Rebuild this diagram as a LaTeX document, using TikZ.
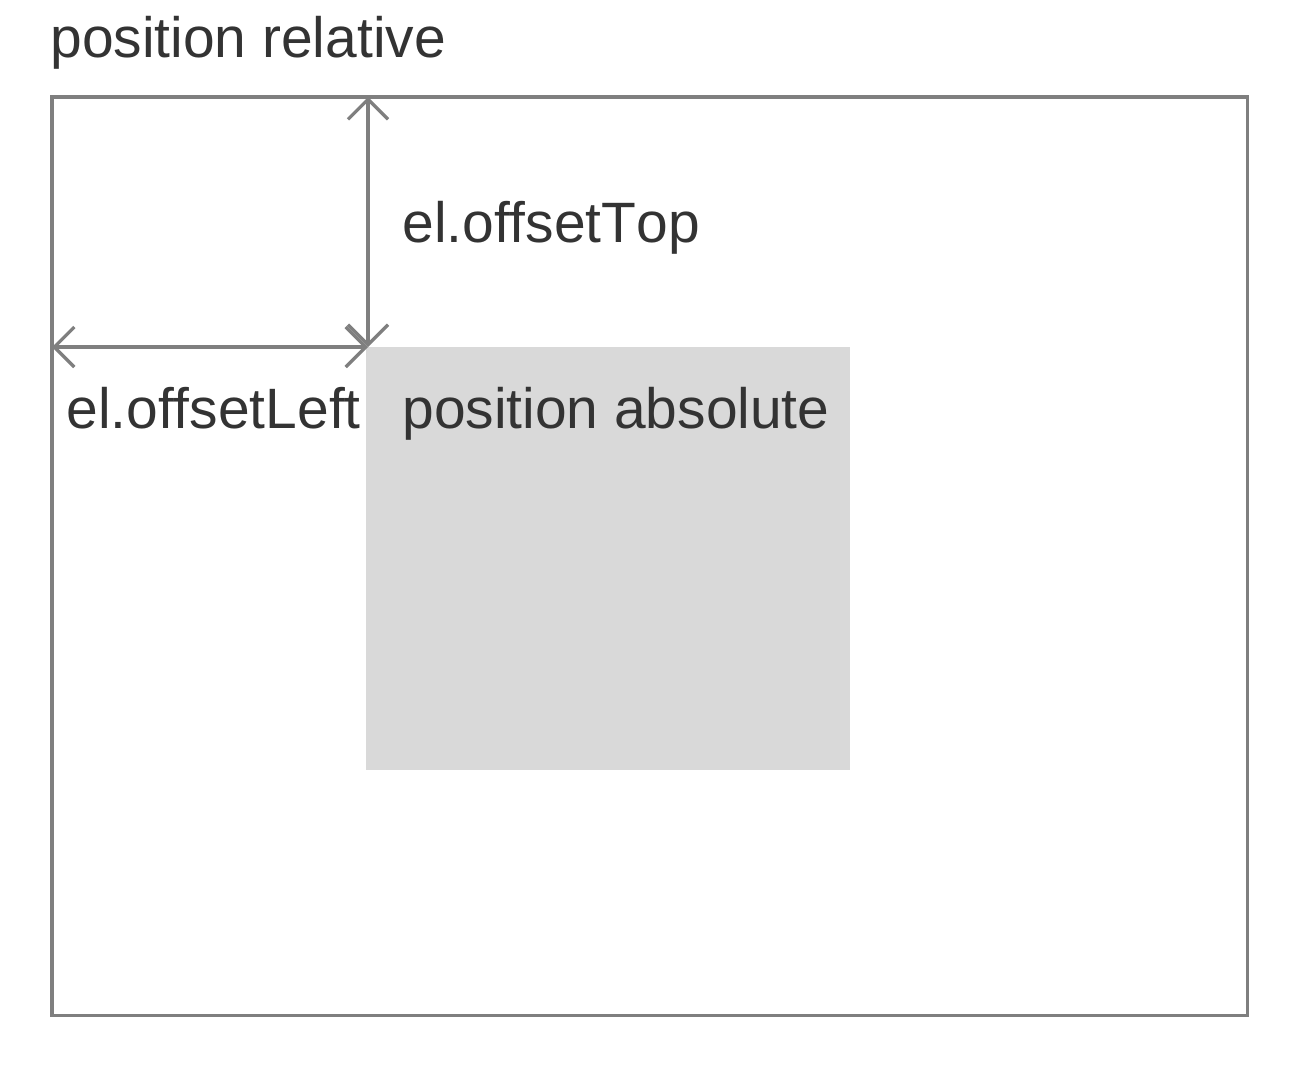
\documentclass[tikz,border=0pt]{standalone}
\usepackage{fontspec}
\setmainfont{Liberation Sans}[Kerning=Off]
\usepackage{tikz}
\usepackage{xcolor}
\usetikzlibrary{positioning, arrows.meta}

\definecolor{framegray}{HTML}{7F7F7F}
\definecolor{boxgray}{HTML}{D9D9D9}
\definecolor{txtgray}{HTML}{333333}

\begin{document}
\begin{tikzpicture}[x=0.02cm, y=-0.02cm,
        label text/.style={anchor=base west, inner sep=0pt, text=txtgray, font=\fontsize{32.4pt}{38pt}\selectfont},
        measure/.style={draw=framegray, line width=0.065cm, {Straight Barb[length=0.4cm, width=0.8cm]}-{Straight Barb[length=0.4cm, width=0.8cm]}}]
            \useasboundingbox (0, 0) rectangle (1306, 1068);

            \node[draw=framegray, line width=0.065cm, anchor=north west, inner sep=0pt, outer sep=0pt, minimum width=23.92cm, minimum height=18.38cm] (rel) at (52, 97) {};
            \node[fill=boxgray, anchor=north west, inner sep=0pt, outer sep=0pt, minimum width=9.68cm, minimum height=8.46cm] (abs) at (366, 347) {};

            \coordinate (corner) at (368, 347);
            \coordinate (top) at (368, 97);
            \coordinate (left) at (52, 347);

            \node[label text] (reltext) at (50, 58) {position relative};
            \node[label text] (toptext) at (402, 242) {el.offsetTop};
            \node[label text] (lefttext) at (66, 428) {el.offsetLeft};
            \node[label text] (abstext) at (402, 428) {position absolute};

            \draw[measure] (corner) -- (top);
            \draw[measure] (left) -- (corner);
        \end{tikzpicture}
\end{document}
